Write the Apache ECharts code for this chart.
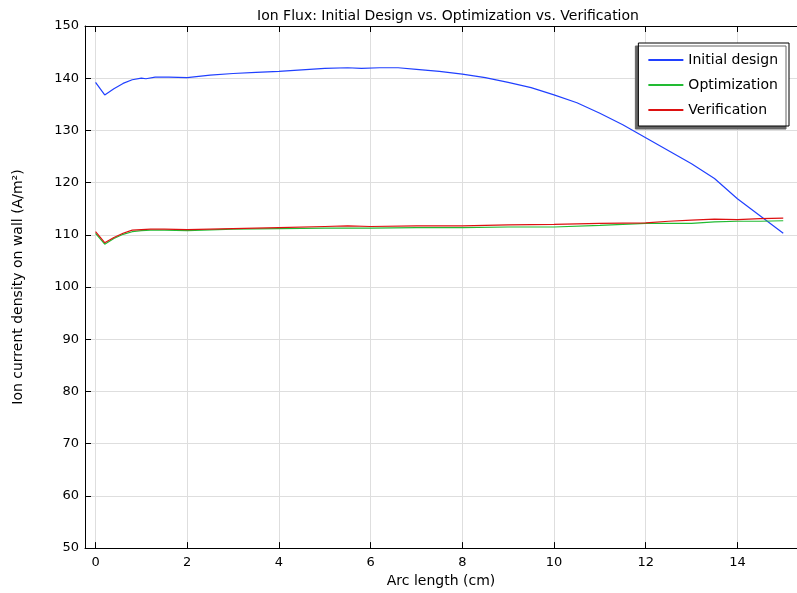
<!DOCTYPE html>
<html>

<head>
    <title></title>
    <meta charset="utf-8">
    <script src="https://cdn.jsdelivr.net/npm/echarts@6/dist/echarts.min.js"></script>
    <style>
        html,
        body {
            margin: 0;
            padding: 0;
            background: #fff;
        }

        #main {
            width: 797px;
            height: 593px;
        }
    </style>
</head>

<body>
    <div id="main"></div>
    <script type="text/javascript">
        // 数据
        var initialX = [0, 0.2, 0.4, 0.6, 0.8, 1.0, 1.1, 1.3, 1.6, 2.0, 2.5, 3.0, 3.5, 4.0, 4.5, 5.0, 5.5, 5.8, 6.2, 6.6, 7.0, 7.5, 8.0, 8.5, 9.0, 9.5, 10.0, 10.5, 11.0, 11.5, 12.0, 12.5, 13.0, 13.5, 14.0, 14.5, 15.0];
        var initialY = [139.2, 136.8, 138.0, 139.0, 139.7, 140.0, 139.9, 140.2, 140.2, 140.1, 140.6, 140.9, 141.1, 141.3, 141.6, 141.9, 142.0, 141.9, 142.0, 142.0, 141.7, 141.3, 140.8, 140.1, 139.2, 138.2, 136.8, 135.3, 133.3, 131.1, 128.6, 126.1, 123.6, 120.8, 116.9, 113.6, 110.3];

        var optX = [0, 0.2, 0.4, 0.6, 0.8, 1.0, 1.2, 1.5, 2, 3, 4, 5, 5.5, 6, 7, 8, 9, 10, 11, 12, 12.5, 13, 13.5, 14, 14.5, 15];
        var verifY = [110.6, 108.5, 109.5, 110.3, 110.9, 111.0, 111.1, 111.1, 111.0, 111.2, 111.4, 111.6, 111.7, 111.6, 111.7, 111.7, 111.9, 112.0, 112.2, 112.3, 112.6, 112.8, 113.0, 112.9, 113.1, 113.2];
        var optY = [110.3, 108.2, 109.3, 110.1, 110.6, 110.8, 110.9, 110.9, 110.8, 111.1, 111.2, 111.3, 111.3, 111.3, 111.4, 111.4, 111.5, 111.5, 111.8, 112.2, 112.2, 112.2, 112.5, 112.6, 112.6, 112.7];

        var seriesNames = ['Initial design', 'Optimization', 'Verification'];

        function zip(xs, ys) {
            return xs.map(function (x, i) { return [x, ys[i]]; });
        }

        var font = 'DejaVu Sans';
        var myChart = echarts.init(document.getElementById('main'));

        var xBase = {
            type: 'value',
            min: -0.23,
            max: 15.3,
            splitNumber: 8,
            axisLine: { show: true, onZero: false, lineStyle: { color: '#000', width: 1 } },
            axisTick: { show: true, inside: true, length: 6, lineStyle: { color: '#000' } },
            axisLabel: {
                color: '#000', fontFamily: font, fontSize: 13, margin: 8,
                showMinLabel: false, showMaxLabel: false
            },
            splitLine: { show: true, lineStyle: { color: '#dedede', width: 1 } }
        };

        var option = {
            animation: false,
            backgroundColor: '#fff',
            title: {
                text: 'Ion Flux: Initial Design vs. Optimization vs. Verification',
                left: 443,
                textAlign: 'center',
                top: 4,
                textStyle: { fontFamily: font, fontSize: 14, fontWeight: 'normal', color: '#000' }
            },
            grid: { left: 85, right: 0, top: 26, bottom: 41, containLabel: false },
            legend: {
                data: seriesNames,
                orient: 'vertical',
                right: 8,
                top: 43,
                padding: [10, 11, 9, 10],
                itemGap: 11,
                itemWidth: 35,
                itemHeight: 2,
                itemTextGap: 7,
                icon: 'rect',
                backgroundColor: '#fff',
                borderColor: '#000',
                borderWidth: 1,
                borderRadius: 0,
                shadowColor: '#666',
                shadowBlur: 0,
                shadowOffsetX: -3,
                shadowOffsetY: 3,
                textStyle: { fontFamily: font, fontSize: 14, color: '#000' }
            },
            xAxis: [
                Object.assign({}, xBase, {
                    position: 'bottom',
                    name: 'Arc length (cm)',
                    nameLocation: 'middle',
                    nameGap: 20,
                    nameTextStyle: { fontFamily: font, fontSize: 14, color: '#000' }
                }),
                Object.assign({}, xBase, {
                    position: 'top',
                    axisLabel: { show: false },
                    splitLine: { show: false }
                })
            ],
            yAxis: {
                type: 'value',
                min: 50,
                max: 150,
                interval: 10,
                name: 'Ion current density on wall (A/m²)',
                nameLocation: 'middle',
                nameRotate: 90,
                nameGap: 60,
                nameTextStyle: { fontFamily: font, fontSize: 14, color: '#000' },
                axisLine: { show: true, onZero: false, lineStyle: { color: '#000', width: 1 } },
                axisTick: { show: true, inside: true, length: 6, lineStyle: { color: '#000' } },
                axisLabel: { color: '#000', fontFamily: font, fontSize: 13, margin: 6 },
                splitLine: { show: true, lineStyle: { color: '#dedede', width: 1 } }
            },
            series: [
                {
                    name: seriesNames[0], type: 'line', showSymbol: false, symbol: 'none',
                    data: zip(initialX, initialY),
                    itemStyle: { color: '#2040ff' },
                    lineStyle: { color: '#2040ff', width: 1.2 }
                },
                {
                    name: seriesNames[1], type: 'line', showSymbol: false, symbol: 'none',
                    data: zip(optX, optY),
                    itemStyle: { color: '#22bb33' },
                    lineStyle: { color: '#22bb33', width: 1.2 }
                },
                {
                    name: seriesNames[2], type: 'line', showSymbol: false, symbol: 'none',
                    data: zip(optX, verifY),
                    itemStyle: { color: '#dd1111' },
                    lineStyle: { color: '#dd1111', width: 1.2 }
                }
            ]
        };
        myChart.setOption(option);
    </script>
</body>

</html>
